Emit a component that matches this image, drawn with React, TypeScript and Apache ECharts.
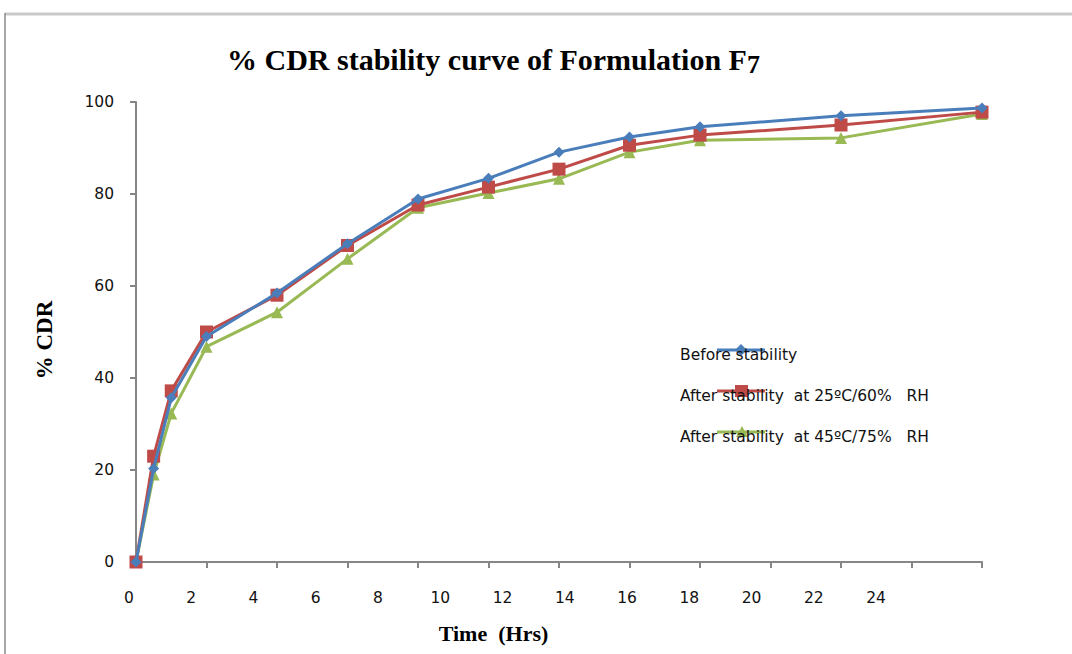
import React, { useEffect, useRef } from 'react';
import * as echarts from 'echarts';

const hours = [0, 0.5, 1, 2, 4, 6, 8, 10, 12, 14, 16, 20, 24];
const beforeStability = [0, 20.3, 35.7, 49, 58.5, 69.2, 78.9, 83.4, 89.1, 92.4, 94.6, 97, 98.7];
const after25 = [0, 23, 37.2, 50, 58, 68.8, 77.6, 81.5, 85.4, 90.6, 92.8, 95, 97.8];
const after45 = [0, 19, 32.3, 46.8, 54.3, 65.9, 77, 80.2, 83.3, 89.1, 91.7, 92.2, 97.4];
const seriesNames = [
  'Before stability',
  'After stability  at 25ºC/60%   RH',
  'After stability  at 45ºC/75%   RH',
];
const colors = ['#4A7EBB', '#BE4B48', '#98B954'];
const symbols = ['diamond', 'rect', 'triangle'];
const symbolSizes = [11, 13, 12];

const labelFont = '"DejaVu Sans", "Noto Sans", sans-serif';
const serif = '"Liberation Serif", "DejaVu Serif", serif';

export default function App() {
  const ref = useRef<HTMLDivElement>(null);
  useEffect(() => {
    if (!ref.current) return;
    const chart = echarts.init(ref.current, null, { renderer: 'svg' });
    const allData = [beforeStability, after25, after45];
    const legendX = 680;
    const legendRows = [355, 396, 437];
    const graphics: any[] = [
      { type: 'line', shape: { x1: 5, y1: 14, x2: 1072, y2: 14 }, style: { stroke: '#c9c9c9', lineWidth: 3 } },
      { type: 'line', shape: { x1: 5, y1: 13, x2: 5, y2: 654 }, style: { stroke: '#8a8a8a', lineWidth: 1.5 } },
    ];
    seriesNames.forEach((name, i) => {
      const y = legendRows[i];
      const ly = y - 5;
      graphics.push({ type: 'line', shape: { x1: 717, y1: ly, x2: 765, y2: ly }, style: { stroke: colors[i], lineWidth: 3 } });
      if (i === 0) {
        graphics.push({ type: 'polygon', shape: { points: [[741, ly - 6], [747, ly], [741, ly + 6], [735, ly]] }, style: { fill: colors[i] } });
      } else if (i === 1) {
        graphics.push({ type: 'rect', shape: { x: 735, y: ly - 6, width: 13, height: 12 }, style: { fill: colors[i] } });
      } else {
        graphics.push({ type: 'polygon', shape: { points: [[742, ly - 6], [748, ly + 5], [736, ly + 5]] }, style: { fill: colors[i] } });
      }
      graphics.push({
        type: 'text', x: legendX, y, style: { text: name, font: `15.5px ${labelFont}`, fill: '#111', textVerticalAlign: 'middle', verticalAlign: 'middle' },
      });
    });

    chart.setOption({
      animation: false,
      backgroundColor: '#fff',
      title: {
        text: '% CDR stability curve of Formulation F{sub|7}',
        left: 222,
        top: 36,
        textStyle: {
          fontFamily: serif,
          fontWeight: 'bold',
          fontSize: 30,
          color: '#000',
          rich: {
            sub: { fontFamily: serif, fontWeight: 'bold', fontSize: 26, color: '#000', padding: [10, 0, 0, 0] },
          },
        },
      },
      grid: [
        { left: 136, right: 90, top: 102, bottom: 92 },
        { left: 129, width: 747, top: 102, bottom: 92 },
      ],
      xAxis: [
        {
          type: 'value', gridIndex: 0, min: 0, max: 24, interval: 2,
          axisLine: { show: true, lineStyle: { color: '#868686', width: 2 } },
          axisTick: { show: true, length: 6, lineStyle: { color: '#868686', width: 2 } },
          axisLabel: { show: false },
          splitLine: { show: false },
        },
        {
          type: 'value', gridIndex: 1, min: 0, max: 24, interval: 2,
          axisLine: { show: false }, axisTick: { show: false }, splitLine: { show: false },
          axisLabel: { show: true, margin: 28, fontFamily: labelFont, fontSize: 15.5, color: '#111' },
          name: 'Time  (Hrs)', nameLocation: 'middle', nameGap: 60,
          nameTextStyle: { fontFamily: serif, fontWeight: 'bold', fontSize: 22, color: '#000', padding: [0, 18, 0, 0] },
        },
      ],
      yAxis: [
        {
          type: 'value', gridIndex: 0, min: 0, max: 100, interval: 20,
          axisLine: { show: true, lineStyle: { color: '#868686', width: 2 } },
          axisTick: { show: true, length: 6, lineStyle: { color: '#868686', width: 2 } },
          axisLabel: { margin: 22, fontFamily: labelFont, fontSize: 15.5, color: '#111' },
          splitLine: { show: false },
          name: '% CDR', nameLocation: 'middle', nameGap: 80,
          nameTextStyle: { fontFamily: serif, fontWeight: 'bold', fontSize: 23, color: '#000', padding: [0, 16, 0, 0] },
        },
        { type: 'value', gridIndex: 1, show: false, min: 0, max: 100 },
      ],
      series: seriesNames.map((name, i) => ({
        name,
        type: 'line',
        xAxisIndex: 0,
        yAxisIndex: 0,
        data: hours.map((h, j) => [h, allData[i][j]]),
        symbol: symbols[i],
        symbolSize: symbolSizes[i],
        showAllSymbol: true,
        lineStyle: { color: colors[i], width: 3 },
        itemStyle: { color: colors[i] },
        z: 3 - i,
      })),
      graphic: graphics,
    });
    return () => chart.dispose();
  }, []);
  return <div ref={ref} style={{ position: 'fixed', left: 0, top: 0, width: 1072, height: 654 }} />;
}
